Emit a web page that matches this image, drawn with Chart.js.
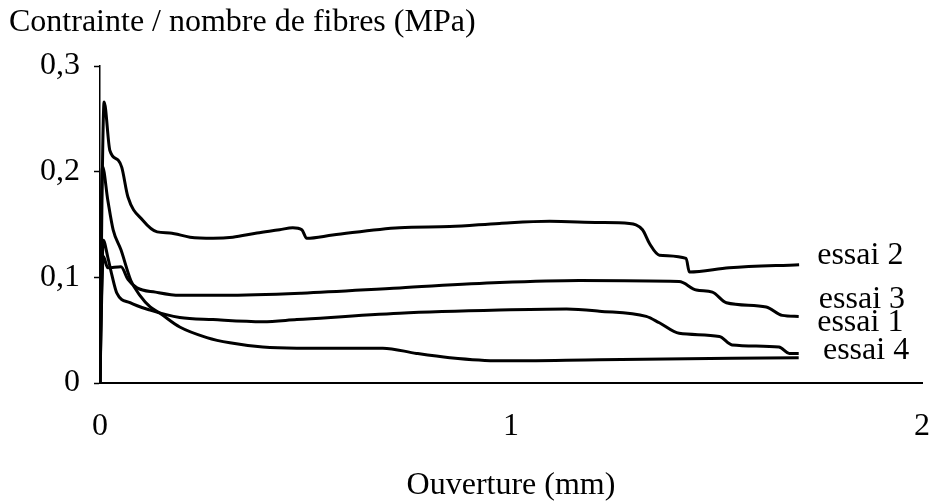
<!DOCTYPE html>
<html>
<head>
<meta charset="utf-8">
<script src="https://cdn.jsdelivr.net/npm/chart.js@4.4.1/dist/chart.umd.min.js"></script>
<style>
  html, body { margin: 0; padding: 0; background: #fff; }
  #wrap { width: 929px; height: 502px; position: relative; }
</style>
</head>
<body>
<div id="wrap"><canvas id="c" width="929" height="502"></canvas></div>
<script>
// ---- data ----
const seriesNames = ['essai 1', 'essai 2', 'essai 3', 'essai 4'];

const essai1X = [0, 0.004, 0.008, 0.019, 0.029, 0.041, 0.073, 0.122, 0.194, 0.275, 0.396, 0.479, 0.729, 0.972, 1.135, 1.215, 1.329, 1.361, 1.409, 1.507, 1.538, 1.652, 1.677, 1.70];
const essai1Y = [0, 0.090, 0.135, 0.119, 0.102, 0.085, 0.076, 0.069, 0.062, 0.060, 0.058, 0.060, 0.066, 0.069, 0.070, 0.068, 0.063, 0.057, 0.047, 0.044, 0.036, 0.034, 0.028, 0.028];

const essai2X = [0, 0.005, 0.010, 0.024, 0.044, 0.053, 0.068, 0.104, 0.139, 0.170, 0.219, 0.275, 0.323, 0.382, 0.437, 0.469, 0.491, 0.503, 0.566, 0.729, 0.851, 0.972, 1.094, 1.215, 1.288, 1.320, 1.337, 1.361, 1.426, 1.434, 1.531, 1.701];
const essai2Y = [0, 0.180, 0.266, 0.220, 0.211, 0.204, 0.176, 0.154, 0.143, 0.142, 0.138, 0.137, 0.138, 0.142, 0.145, 0.147, 0.145, 0.137, 0.140, 0.147, 0.148, 0.151, 0.153, 0.152, 0.151, 0.145, 0.132, 0.121, 0.118, 0.105, 0.109, 0.112];

const essai3X = [0, 0.004, 0.008, 0.019, 0.051, 0.068, 0.090, 0.135, 0.194, 0.300, 0.490, 0.729, 0.972, 1.166, 1.409, 1.451, 1.490, 1.524, 1.621, 1.660, 1.700];
const essai3Y = [0, 0.080, 0.120, 0.109, 0.110, 0.098, 0.090, 0.086, 0.083, 0.083, 0.085, 0.090, 0.095, 0.097, 0.096, 0.088, 0.086, 0.076, 0.072, 0.064, 0.063];

const essai4X = [0, 0.003, 0.006, 0.019, 0.032, 0.051, 0.075, 0.097, 0.122, 0.146, 0.194, 0.260, 0.316, 0.396, 0.479, 0.688, 0.770, 0.851, 0.972, 1.215, 1.700];
const essai4Y = [0, 0.150, 0.205, 0.173, 0.145, 0.126, 0.097, 0.083, 0.072, 0.066, 0.053, 0.043, 0.038, 0.034, 0.033, 0.033, 0.028, 0.024, 0.021, 0.022, 0.024];

const xTickLabels = ['0', '1', '2'];
const yTickLabels = ['0', '0,1', '0,2', '0,3'];

const xTitle = 'Ouverture (mm)';
const yTitle = 'Contrainte / nombre de fibres (MPa)';

// ---- build datasets ----
function pts(xs, ys) { return xs.map((x, i) => ({ x: x, y: ys[i] })); }
const allX = [essai1X, essai2X, essai3X, essai4X];
const allY = [essai1Y, essai2Y, essai3Y, essai4Y];

const datasets = seriesNames.map((name, i) => ({
  label: name,
  data: pts(allX[i], allY[i]),
  borderColor: '#000',
  backgroundColor: '#000',
  borderWidth: 3,
  pointRadius: 0,
  fill: false,
  cubicInterpolationMode: 'monotone'
}));

// series end labels, anchored in data units (text baseline)
const endLabelPlugin = {
  id: 'endLabels',
  afterDatasetsDraw(chart, args, opts) {
    const { ctx, scales } = chart;
    ctx.save();
    ctx.fillStyle = '#000';
    ctx.font = opts.font;
    ctx.textAlign = 'left';
    ctx.textBaseline = 'alphabetic';
    opts.anchors.forEach((a, i) => {
      ctx.fillText(seriesNames[i], scales.x.getPixelForValue(a[0]), scales.y.getPixelForValue(a[1]));
    });
    ctx.restore();
  }
};

const SERIF = '"Liberation Serif", "DejaVu Serif", serif';

new Chart(document.getElementById('c'), {
  type: 'line',
  data: { datasets: datasets },
  plugins: [endLabelPlugin],
  options: {
    responsive: false,
    animation: false,
    events: [],
    layout: { padding: { left: 9, right: 7, top: 0, bottom: 0 } },
    plugins: {
      legend: { display: false },
      tooltip: { enabled: false },
      title: {
        display: true,
        text: yTitle,
        align: 'start',
        color: '#000',
        font: { family: SERIF, size: 32, weight: 'normal', lineHeight: 1.2 },
        padding: { top: 3, bottom: 24.6 }
      },
      endLabels: {
        font: '32px ' + SERIF,
        anchors: [[1.745, 0.049], [1.745, 0.1126], [1.749, 0.071], [1.759, 0.023]]
      }
    },
    scales: {
      x: {
        type: 'linear',
        min: 0, max: 2,
        afterFit(s) { s.height = 119; s.paddingLeft = 0; s.paddingRight = 0; },
        ticks: {
          stepSize: 1,
          color: '#000',
          padding: 24,
          maxRotation: 0,
          font: { family: SERIF, size: 32 },
          callback: (v, i) => xTickLabels[i]
        },
        grid: { display: true, drawOnChartArea: false, drawTicks: false, color: '#000' },
        border: { display: true, color: '#000', width: 2 },
        title: {
          display: true,
          text: xTitle,
          color: '#000',
          font: { family: SERIF, size: 32, lineHeight: 1.0 },
          padding: { top: 0, bottom: 0 }
        }
      },
      y: {
        type: 'linear',
        min: 0, max: 0.3,
        afterFit(s) { s.width = 91; },
        ticks: {
          stepSize: 0.1,
          color: '#000',
          padding: 14,
          font: { family: SERIF, size: 32 },
          callback: (v, i) => yTickLabels[i]
        },
        grid: { display: true, drawOnChartArea: false, drawTicks: true, tickLength: 6, color: '#000', tickWidth: 1.5 },
        border: { display: true, color: '#000', width: 1.5, dash: [6, 4] }
      }
    }
  }
});
</script>
</body>
</html>
